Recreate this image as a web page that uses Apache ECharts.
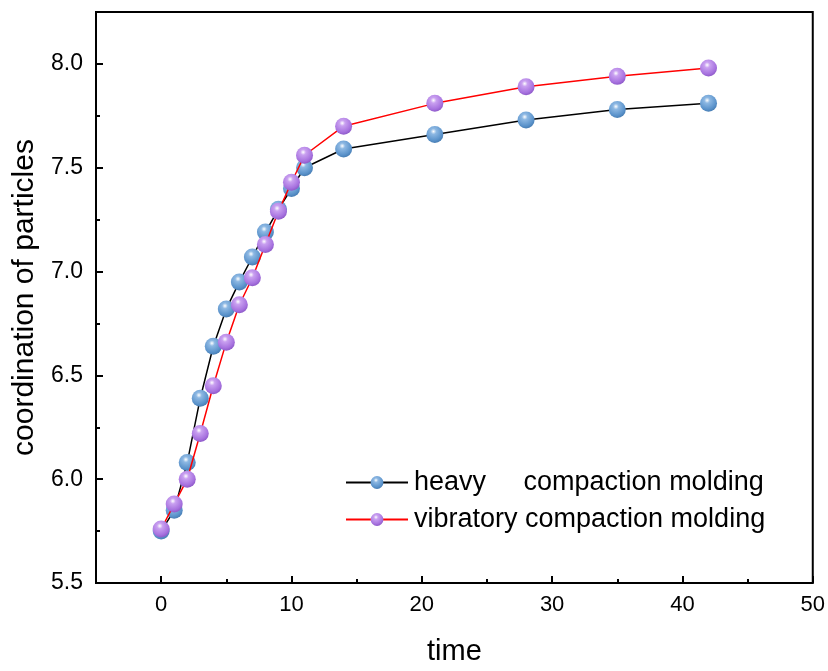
<!DOCTYPE html>
<html>
<head>
<meta charset="utf-8">
<script src="https://cdn.jsdelivr.net/npm/echarts@6/dist/echarts.min.js"></script>
<style>
  html, body { margin: 0; padding: 0; background: #fff; }
  #chart { width: 828px; height: 671px; }
</style>
</head>
<body>
<div id="chart"></div>
<script>
// Sampling times and coordination numbers for the two molding methods
const time = [0, 1, 2, 3, 4, 5, 6, 7, 8, 9, 10, 11, 14, 21, 28, 35, 42];
const heavy = [5.75, 5.85, 6.08, 6.39, 6.64, 6.82, 6.95, 7.07, 7.19, 7.30, 7.40, 7.50, 7.59, 7.66, 7.73, 7.78, 7.81];
const vibratory = [5.76, 5.88, 6.00, 6.22, 6.45, 6.66, 6.84, 6.97, 7.13, 7.29, 7.43, 7.56, 7.70, 7.81, 7.89, 7.94, 7.98];

const xMajor = [0, 10, 20, 30, 40, 50];
const xMinor = [5, 15, 25, 35, 45];
const yMajor = [5.5, 6.0, 6.5, 7.0, 7.5, 8.0];
const yMinor = [5.75, 6.25, 6.75, 7.25, 7.75];

const FONT = '"Liberation Sans", Arial, sans-serif';

function ball(light, base, dark) {
  return {
    type: 'radial', x: 0.42, y: 0.32, r: 0.75,
    colorStops: [
      { offset: 0, color: '#ffffff' },
      { offset: 0.22, color: light },
      { offset: 0.7, color: base },
      { offset: 1, color: dark }
    ]
  };
}

function pairs(xs, ys) { return xs.map((x, i) => [x, ys[i]]); }

const chart = echarts.init(document.getElementById('chart'), null, { renderer: 'canvas' });

const tickStyle = { color: '#000', width: 2 };
const hiddenLine = { show: false, onZero: false };

chart.setOption({
  animation: false,
  backgroundColor: '#fff',
  grid: {
    left: 96, right: 15, top: 12, bottom: 80,
    show: true, borderColor: '#000', borderWidth: 2, backgroundColor: 'transparent'
  },
  legend: {
    orient: 'vertical',
    left: 340, top: 464,
    itemWidth: 62, itemHeight: 16, itemGap: 10,
    textStyle: { fontFamily: FONT, fontSize: 27, color: '#000', padding: [0, 0, 0, 1] },
    data: ['heavy     compaction molding', 'vibratory compaction molding']
  },
  xAxis: [
    {
      type: 'value', min: -5, max: 50,
      axisLine: hiddenLine,
      splitLine: { show: false },
      axisTick: { inside: true, length: 7, customValues: xMajor, lineStyle: tickStyle },
      axisLabel: { customValues: xMajor, fontFamily: FONT, fontSize: 22, color: '#000', margin: 11 },
      name: 'time', nameLocation: 'middle', nameGap: 54,
      nameTextStyle: { fontFamily: FONT, fontSize: 29, color: '#000' }
    },
    {
      type: 'value', min: -5, max: 50, position: 'bottom',
      axisLine: hiddenLine,
      splitLine: { show: false },
      axisTick: { inside: true, length: 4, customValues: xMinor, lineStyle: tickStyle },
      axisLabel: { show: false }
    }
  ],
  yAxis: [
    {
      type: 'value', min: 5.5, max: 8.25,
      axisLine: hiddenLine,
      splitLine: { show: false },
      axisTick: { inside: true, length: 7, customValues: yMajor, lineStyle: tickStyle },
      axisLabel: {
        customValues: yMajor, fontFamily: FONT, fontSize: 23, color: '#000', margin: 13,
        formatter: v => v.toFixed(1)
      },
      name: 'coordination of particles', nameLocation: 'middle', nameGap: 51,
      nameTextStyle: { fontFamily: FONT, fontSize: 30, color: '#000' }
    },
    {
      type: 'value', min: 5.5, max: 8.25, position: 'left',
      axisLine: hiddenLine,
      splitLine: { show: false },
      axisTick: { inside: true, length: 4, customValues: yMinor, lineStyle: tickStyle },
      axisLabel: { show: false }
    }
  ],
  series: [
    {
      name: 'heavy     compaction molding',
      type: 'line',
      data: pairs(time, heavy),
      symbol: 'circle', symbolSize: 17,
      lineStyle: { color: '#000', width: 1.5 },
      itemStyle: { color: ball('#8db8e3', '#5b93cb', '#3f74aa'), borderWidth: 0 },
      z: 2
    },
    {
      name: 'vibratory compaction molding',
      type: 'line',
      data: pairs(time, vibratory),
      symbol: 'circle', symbolSize: 17,
      lineStyle: { color: '#ff0000', width: 1.5 },
      itemStyle: { color: ball('#c9a0f0', '#a772df', '#8450c0'), borderWidth: 0 },
      z: 3
    }
  ]
});
</script>
</body>
</html>
